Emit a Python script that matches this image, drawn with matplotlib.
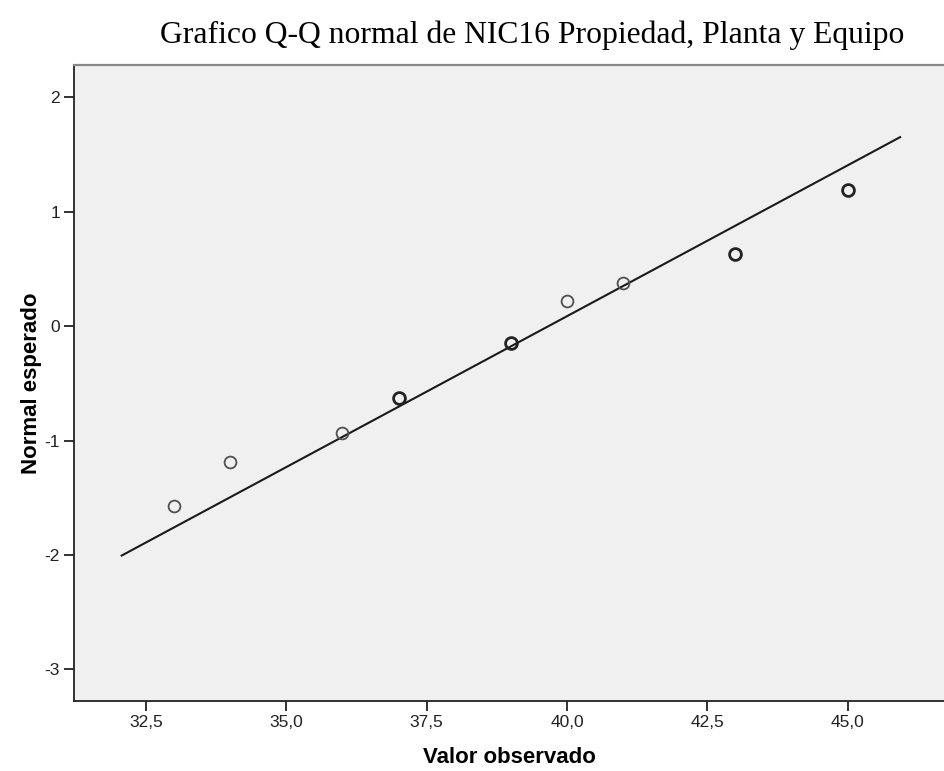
import matplotlib.pyplot as plt
from matplotlib.ticker import FuncFormatter

obs_x = [33, 34, 36, 37, 39, 40, 41, 43, 45]
esp_y = [-1.57, -1.19, -0.93, -0.63, -0.15, 0.22, 0.38, 0.63, 1.19]
freq = [1, 1, 1, 2, 2, 1, 1, 2, 2]   # circulos repetidos se ven mas gruesos

# recta de referencia
line_x = [32.05, 45.95]
line_y = [-2.01, 1.656]

x_ticks = [32.5, 35.0, 37.5, 40.0, 42.5, 45.0]
y_ticks = [-3, -2, -1, 0, 1, 2]

fig = plt.figure(figsize=(9.44, 7.71), dpi=100)
ax = fig.add_axes([74/944, 1 - 701/771, 870/944, (701 - 64.7)/771])
ax.set_facecolor('#f0f0f0')

ax.plot(line_x, line_y, color='#1a1a1a', linewidth=1.5, solid_capstyle='butt')

for x, y, f in zip(obs_x, esp_y, freq):
    ax.plot(x, y, marker='o', markersize=8.5, markerfacecolor='none',
            markeredgecolor='#222222' if f > 1 else '#505050',
            markeredgewidth=2.0 if f > 1 else 1.3, linestyle='none')

ax.set_xlim(31.217, 46.716)
ax.set_ylim(-3.277, 2.285)
ax.set_xticks(x_ticks)
ax.set_yticks(y_ticks)
ax.xaxis.set_major_formatter(FuncFormatter(lambda v, p: f'{v:.1f}'.replace('.', ',')))
ax.yaxis.set_major_formatter(FuncFormatter(lambda v, p: f'{int(round(v))}'))

for lab in ax.get_xticklabels() + ax.get_yticklabels():
    lab.set_family('Liberation Sans')
    lab.set_fontsize(12.5)
    lab.set_color('#222222')
ax.tick_params(direction='out', length=7, width=1.3, color='#222222', pad=3)

ax.spines['right'].set_visible(False)
ax.spines['top'].set_color('#888888')
ax.spines['top'].set_linewidth(1.6)
for s in ['left', 'bottom']:
    ax.spines[s].set_color('#222222')
    ax.spines[s].set_linewidth(1.3)

ax.set_xlabel('Valor observado', fontsize=16, fontweight='bold', family='Liberation Sans', labelpad=12)
ax.set_ylabel('Normal esperado', fontsize=16, fontweight='bold', family='Liberation Sans', labelpad=2)

fig.text(532/944, 1 - 35/771, 'Grafico Q-Q normal de NIC16 Propiedad, Planta y Equipo',
         ha='center', va='center', fontsize=22.8, family='Liberation Serif')

fig.savefig('out.png', dpi=100)
